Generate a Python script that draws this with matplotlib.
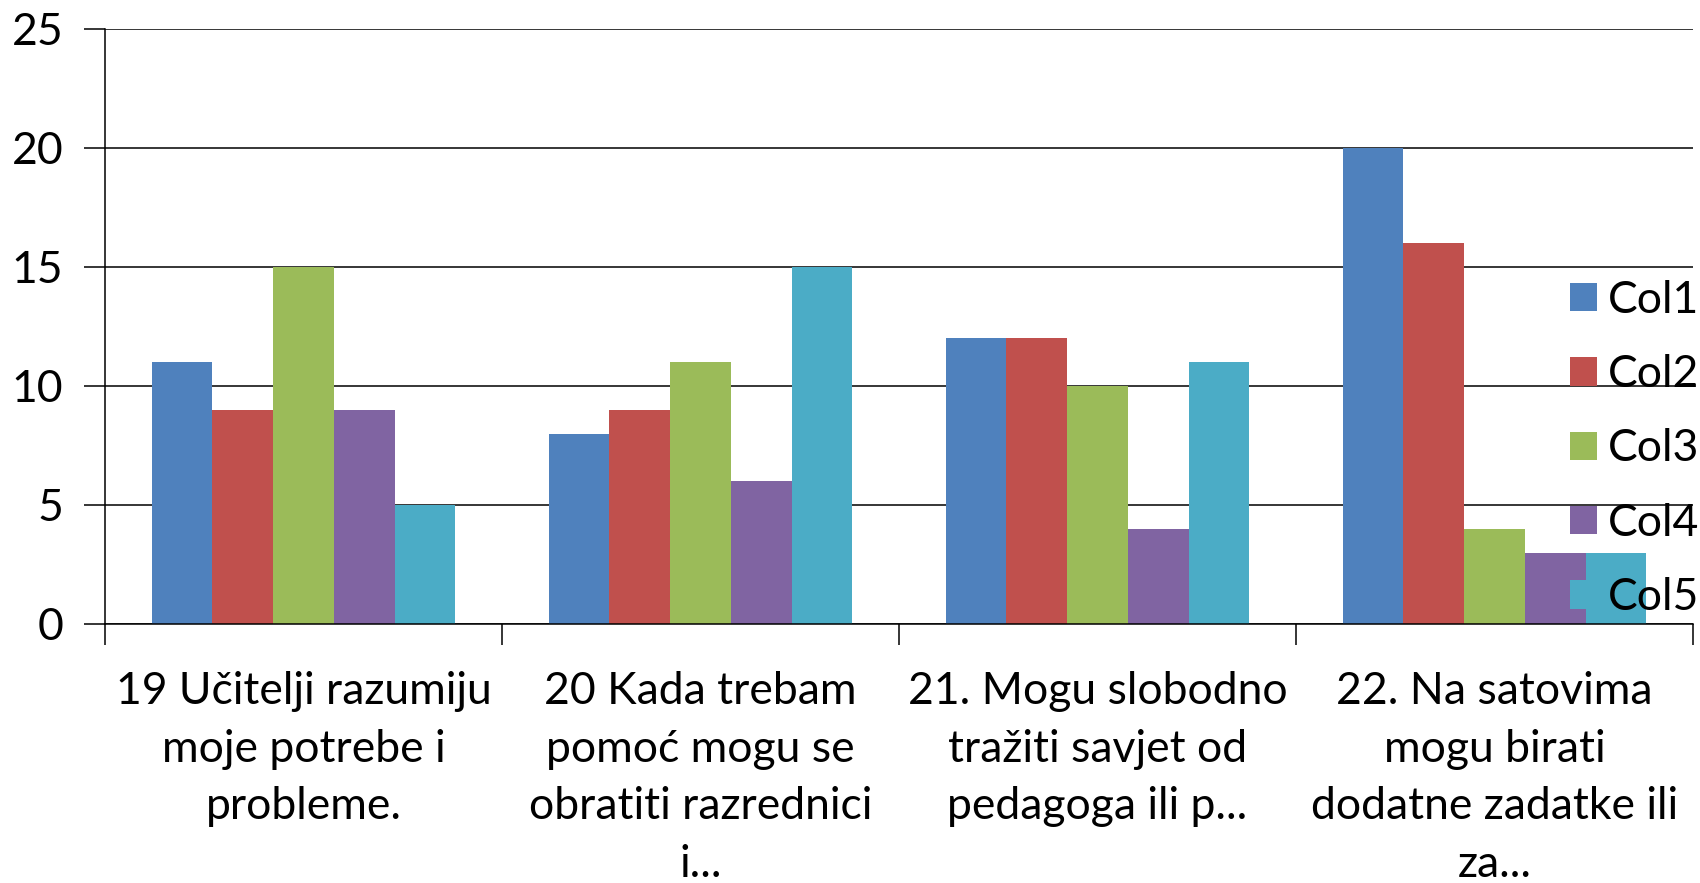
import numpy as np
import matplotlib
matplotlib.use("Agg")
import matplotlib.pyplot as plt

plt.rcParams['font.family'] = ['Lato', 'DejaVu Sans']

categories = [
    "19 Učitelji razumiju\nmoje potrebe i\nprobleme.",
    "20 Kada trebam\npomoć mogu se\nobratiti razrednici\ni...",
    "21. Mogu slobodno\ntražiti savjet od\npedagoga ili p...",
    "22. Na satovima\nmogu birati\ndodatne zadatke ili\nza...",
]
series_names = ["Col1", "Col2", "Col3", "Col4", "Col5"]
col1 = [11, 8, 12, 20]
col2 = [9, 9, 12, 16]
col3 = [15, 11, 10, 4]
col4 = [9, 6, 4, 3]
col5 = [5, 15, 11, 3]
colors = ["#4F81BD", "#C0504D", "#9BBB59", "#8064A2", "#4BACC6"]

fig = plt.figure(figsize=(17, 8.83), dpi=100)
ax = fig.add_axes([105/1700, 1-624/883, (1693-105)/1700, (624-28.7)/883])

x = np.arange(len(categories))
bw = 0.153
for i, (vals, name) in enumerate(zip([col1, col2, col3, col4, col5], series_names)):
    ax.bar(x + (i - 2) * bw, vals, bw, color=colors[i], label=name, zorder=2)

ax.set_xlim(-0.5, len(categories) - 0.5)
ax.set_ylim(0, 25)
ax.set_yticks([0, 5, 10, 15, 20, 25])
ax.yaxis.grid(True, color="black", linewidth=1.1)
ax.set_axisbelow(True)

ax.set_xticks(x)
ax.set_xticklabels(categories, fontsize=32, linespacing=1.5)
ax.set_xticks(np.arange(len(categories) + 1) - 0.5, minor=True)
ax.tick_params(axis="x", which="major", length=0, pad=34)
ax.tick_params(axis="x", which="minor", length=15, width=1.1, direction="out")
ax.tick_params(axis="y", length=15, width=1.1, pad=15, labelsize=32)

for s in ["top", "right"]:
    ax.spines[s].set_visible(False)
for s in ["left", "bottom"]:
    ax.spines[s].set_linewidth(1.1)

leg = fig.legend(loc="center left", bbox_to_anchor=(1570/1700, 1-449/883),
                 frameon=False, fontsize=32, borderpad=0, borderaxespad=0,
                 labelspacing=0.75, handlelength=0.6, handleheight=0.6,
                 handletextpad=0.25)
leg.set_zorder(5)

fig.savefig("out.png", dpi=100)
